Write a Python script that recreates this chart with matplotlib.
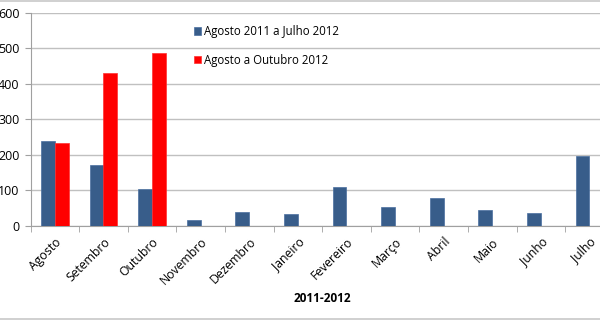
import matplotlib
matplotlib.use("Agg")
import matplotlib.pyplot as plt
import numpy as np

months = ["Agosto", "Setembro", "Outubro", "Novembro", "Dezembro", "Janeiro",
          "Fevereiro", "Março", "Abril", "Maio", "Junho", "Julho"]
serie_2011 = [240, 170, 104, 17, 40, 33, 108, 54, 77, 44, 37, 195]
serie_2012 = [232, 430, 486]
label_2011 = "Agosto 2011 a Julho 2012"
label_2012 = "Agosto a Outubro 2012"

plt.rcParams["font.family"] = ["Open Sans", "DejaVu Sans"]
fig = plt.figure(figsize=(6.0, 3.23), dpi=100)
ax = fig.add_axes([0.051, 0.301, 0.972, 0.66])

x = np.arange(len(months))
w = 0.288
ax.bar(x - w / 2, serie_2011, w, color="#385D8A", edgecolor="#4A6FA0", linewidth=0.5,
       label=label_2011, zorder=3)
ax.bar(x[:len(serie_2012)] + w / 2, serie_2012, w, color="#FF0000", edgecolor="#FF3030",
       linewidth=0.5, label=label_2012, zorder=3)

ax.set_xlim(-0.5, len(months) - 0.5)
ax.set_ylim(0, 600)
ax.set_yticks(range(0, 601, 100))
ax.yaxis.grid(True, color="#C0C0C0", linewidth=1, zorder=0)
ax.tick_params(axis="y", labelsize=9, length=4, color="#A0A0A0", pad=4)

ax.set_xticks(x)
ax.set_xticklabels(months, rotation=45, ha="right", rotation_mode="anchor", fontsize=8.8)
ax.tick_params(axis="x", which="major", length=0, pad=7)
ax.set_xticks(np.arange(-0.5, len(months), 1), minor=True)
ax.tick_params(axis="x", which="minor", length=4, color="#A0A0A0")

for s in ["top", "right"]:
    ax.spines[s].set_visible(False)
for s in ["left", "bottom"]:
    ax.spines[s].set_color("#A0A0A0")

ax.set_xlabel("2011-2012", fontsize=8.5, fontweight="bold", labelpad=3)

ax.legend(loc="upper left", bbox_to_anchor=(0.262, 0.99), frameon=False, fontsize=8.3,
          handlelength=0.6, handleheight=0.6, handletextpad=0.3, labelspacing=1.35)

# chart frame lines
fig.add_artist(plt.Line2D([0, 1], [0.997, 0.997], color="#C8C8C8", linewidth=1.2))
fig.add_artist(plt.Line2D([0, 1], [0.012, 0.012], color="#C8C8C8", linewidth=1.2))

fig.savefig("out.png", dpi=100)
